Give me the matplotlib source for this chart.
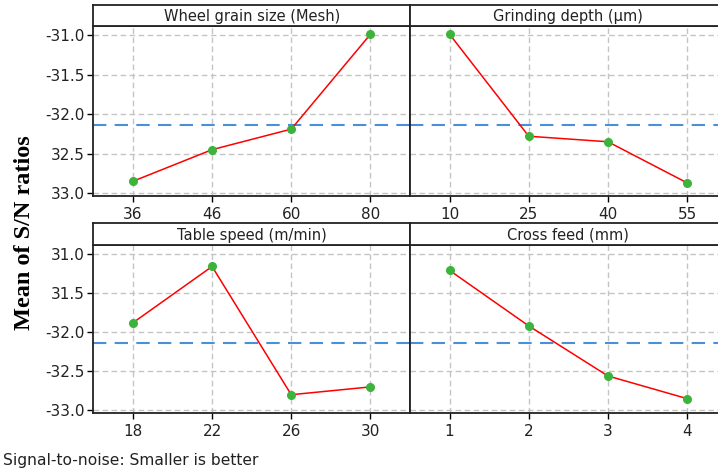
import matplotlib
matplotlib.use("Agg")
import matplotlib.pyplot as plt
from matplotlib.ticker import FixedLocator, FixedFormatter

# ---- data ----
titles = ["Wheel grain size (Mesh)", "Grinding depth (\u00b5m)", "Table speed (m/min)", "Cross feed (mm)"]
xlabels = [["36", "46", "60", "80"], ["10", "25", "40", "55"], ["18", "22", "26", "30"], ["1", "2", "3", "4"]]
wheel_grain = [-32.85, -32.45, -32.19, -30.99]
grinding_depth = [-30.99, -32.28, -32.35, -32.87]
table_speed = [-31.88, -31.16, -32.80, -32.70]
cross_feed = [-31.21, -31.92, -32.56, -32.85]
series = [wheel_grain, grinding_depth, table_speed, cross_feed]
mean_sn = -32.14
yticks = [-31.0, -31.5, -32.0, -32.5, -33.0]
ytick_labels_top = ["-31.0", "-31.5", "-32.0", "32.5", "33.0"]
ytick_labels_bottom = ["31.0", "31.5", "-32.0", "-32.5", "-33.0"]

W, H = 718, 473
fig = plt.figure(figsize=(W / 100, H / 100), dpi=100)
font = "DejaVu Sans"

def fx(px):
    return px / W

def fy(py):
    return 1 - py / H

panel_w = 316.7
rows = [(26.0, 195.5, 5.0), (245.0, 412.7, 223.3)]  # plot top, plot bottom, strip top
cols = [93.3, 410.0]

for i in range(4):
    r, c = divmod(i, 2)
    top, bot, stop = rows[r]
    left = cols[c]
    ax = fig.add_axes([fx(left), fy(bot), panel_w / W, (bot - top) / H])
    x = [1, 2, 3, 4]
    ax.axhline(mean_sn, color="#4a8fd8", lw=1.5, dashes=(6.4, 4), zorder=2)
    ax.plot(x, series[i], color="#ff0000", lw=1.1, zorder=3)
    ax.plot(x, series[i], "o", color="#3cb33c", ms=5.5, mec="#3cb33c", zorder=4)
    ax.set_xlim(0.5, 4.5)
    ax.set_ylim(-33.03, -30.885)
    ax.xaxis.set_major_locator(FixedLocator(x))
    ax.xaxis.set_major_formatter(FixedFormatter(xlabels[i]))
    ax.yaxis.set_major_locator(FixedLocator(yticks))
    if c == 0:
        ax.yaxis.set_major_formatter(FixedFormatter(ytick_labels_top if r == 0 else ytick_labels_bottom))
        ax.tick_params(axis="y", length=4, width=1, pad=2, labelsize=11)
    else:
        ax.tick_params(axis="y", length=0, labelleft=False)
    ax.tick_params(axis="x", length=4, width=1, pad=4, labelsize=11)
    for lab in ax.get_xticklabels() + ax.get_yticklabels():
        lab.set_fontfamily(font)
        lab.set_color("#222222")
    ax.grid(True, color="#c4c4c4", lw=1.0, dashes=(4, 2.5))
    ax.set_axisbelow(True)
    for s in ax.spines.values():
        s.set_linewidth(1.3)
        s.set_color("#222222")
    # strip
    sax = fig.add_axes([fx(left), fy(top), panel_w / W, (top - stop) / H])
    sax.set_xticks([])
    sax.set_yticks([])
    for s in sax.spines.values():
        s.set_linewidth(1.3)
        s.set_color("#222222")
    sax.text(0.5, 0.45, titles[i], ha="center", va="center", fontsize=10.5,
             family=font, color="#222222", transform=sax.transAxes)

fig.text(fx(25), fy(232.5), "Mean of S/N ratios", rotation=90, ha="center", va="center",
         fontsize=17.5, fontweight="bold", family="Liberation Serif")
fig.text(fx(3), fy(460), "Signal-to-noise: Smaller is better", ha="left", va="center",
         fontsize=11.2, family=font, color="#222222")

fig.savefig("out.png", dpi=100)
